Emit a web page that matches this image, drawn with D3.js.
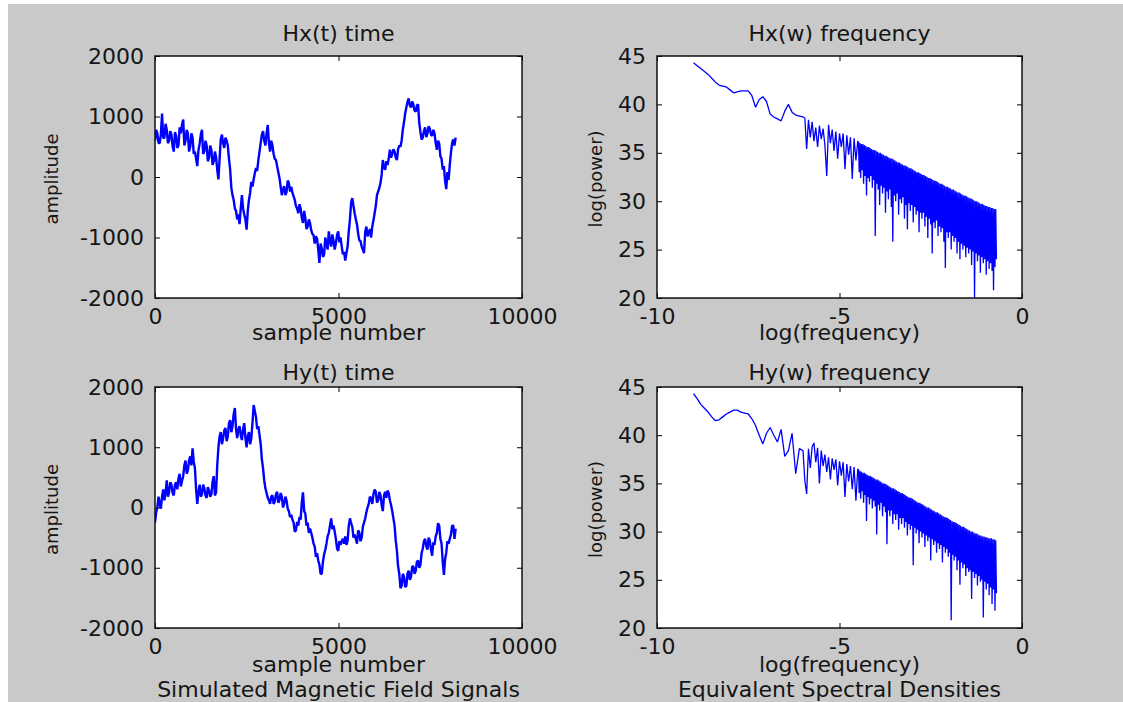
<!DOCTYPE html>
<html>
<head>
<meta charset="utf-8">
<script src="https://cdn.jsdelivr.net/npm/d3@7"></script>
<style>
    body { margin: 0; background: #ffffff; }
    svg { display: block; }
</style>
</head>
<body>
<div class="chart"></div>
<script>
// tick labels
const timeXTicks = [0, 5000, 10000];
const timeYTicks = [-2000, -1000, 0, 1000, 2000];
const freqXTicks = [-10, -5, 0];
const freqYTicks = [20, 25, 30, 35, 40, 45];

// time series: one value every 32 samples (0 .. 8192)
const sampleStep = 32;
const hxAmplitude = [
    600, 780, 720, 560, 560, 700, 1050, 640, 650, 880,
    780, 560, 600, 760, 700, 500, 420, 740, 680, 480,
    520, 820, 720, 860, 950, 520, 600, 780, 720, 420,
    500, 720, 650, 380, 420, 300, 180, 440, 550, 700,
    780, 380, 420, 600, 520, 260, 320, 520, 450, 200,
    250, 420, 330, 120, -40, 300, 620, 700, 560, 480,
    650, 600, 520, 300, 120, -180, -300, -380, -520, -560,
    -700, -620, -780, -520, -300, -520, -620, -700, -870, -560,
    -380, -260, -80, -160, -40, 60, 150, 100, 280, 420,
    560, 700, 760, 600, 520, 720, 860, 560, 420, 600,
    520, 380, 300, 280, 180, 80, -20, -160, -300, -200,
    -150, -300, -250, -60, -100, -240, -160, -260, -320, -380,
    -480, -520, -600, -450, -520, -680, -760, -560, -680, -860,
    -820, -700, -760, -880, -940, -960, -1100, -980, -1020, -1200,
    -1420, -1100, -1180, -1320, -1280, -1000, -1100, -1200, -900, -1050,
    -1150, -950, -1050, -1200, -1100, -960, -900, -1080, -1000, -1150,
    -1280, -1240, -1380, -1260, -1150, -900, -700, -420, -350, -480,
    -600, -700, -780, -940, -1050, -1060, -1150, -1200, -1260, -900,
    -820, -980, -920, -860, -1000, -820, -720, -600, -480, -300,
    -240, -180, -100, 40, 280, 160, 120, 260, 200, 300,
    450, 320, 380, 460, 420, 320, 280, 460, 520, 500,
    600, 780, 900, 1050, 1150, 1240, 1300, 1180, 1150, 1250,
    1200, 1100, 1080, 1180, 1200, 900, 750, 620, 650, 760,
    820, 660, 720, 840, 800, 700, 680, 780, 720, 560,
    450, 600, 550, 340, 300, 120, 180, -60, -200, 80,
    -50, 200, 400, 560, 620, 520, 650
];
const hyAmplitude = [
    -250, -80, 0, 180, 60, -20, 180, 300, 120, 240,
    450, 180, 250, 420, 380, 240, 200, 380, 420, 300,
    480, 560, 350, 440, 520, 700, 780, 560, 620, 780,
    850, 700, 980, 760, 650, 300, 60, 260, 380, 180,
    220, 380, 320, 200, 160, 340, 280, 180, 220, 420,
    520, 200, 250, 700, 1000, 1180, 1250, 1050, 1150, 1280,
    1320, 1100, 1180, 1400, 1450, 1250, 1350, 1550, 1650, 1300,
    1150, 1300, 1350, 1200, 1120, 1300, 1400, 1150, 1000, 1180,
    1250, 1050, 1150, 1400, 1700, 1600, 1500, 1300, 1350, 1200,
    1050, 800, 650, 450, 320, 240, 160, 120, 60, 180,
    200, 60, 100, 220, 260, 80, 120, 240, 180, 0,
    60, 180, 120, -20, -60, -160, -120, -200, -250, -400,
    -380, -240, -300, -160, -200, 80, 250, -60, -100, -300,
    -250, -420, -350, -420, -500, -600, -650, -820, -760, -880,
    -950, -1100, -1100, -900, -780, -700, -600, -480, -420, -300,
    -180, -360, -300, -400, -520, -680, -720, -560, -620, -560,
    -520, -600, -480, -620, -550, -300, -180, -260, -320, -500,
    -450, -520, -600, -380, -420, -560, -500, -320, -250, -180,
    -80, 0, 60, 180, 150, 60, 220, 300, 260, 80,
    120, 260, 200, 40, -60, 200, 260, 160, 280, 240,
    120, 40, -60, -180, -300, -550, -720, -980, -1100, -1340,
    -1300, -1100, -1150, -1320, -1300, -1100, -1050, -1200, -1150, -980,
    -980, -1100, -1050, -900, -880, -1000, -950, -760, -680, -560,
    -520, -640, -700, -500, -550, -700, -800, -580, -620, -480,
    -420, -260, -300, -520, -600, -900, -1120, -860, -750, -560,
    -600, -520, -450, -300, -300, -520, -350
];

// spectra: log(frequency) grid shared by both densities
const logFreq = [
    -9.0, -8.9, -8.8, -8.7, -8.6, -8.5, -8.4, -8.3, -8.2, -8.1,
    -8.0, -7.9, -7.8, -7.7, -7.6, -7.5, -7.4, -7.3, -7.2, -7.1,
    -7.0, -6.9, -6.8, -6.7, -6.6, -6.5, -6.4, -6.3, -6.2, -6.1,
    -6.0,
    -5.95, -5.90, -5.85, -5.80, -5.75, -5.70, -5.65, -5.60, -5.55, -5.50,
    -5.45, -5.40, -5.35, -5.30, -5.25, -5.20, -5.15, -5.10, -5.05, -5.00,
    -4.95, -4.90, -4.85, -4.80, -4.75, -4.70, -4.65, -4.60, -4.55, -4.50,
    -4.48, -4.46, -4.44, -4.42, -4.40, -4.38, -4.36, -4.34, -4.32, -4.30,
    -4.28, -4.26, -4.24, -4.22, -4.20, -4.18, -4.16, -4.14, -4.12, -4.10,
    -4.08, -4.06, -4.04, -4.02, -4.00, -3.98, -3.96, -3.94, -3.92, -3.90,
    -3.88, -3.86, -3.84, -3.82, -3.80, -3.78, -3.76, -3.74, -3.72, -3.70,
    -3.68, -3.66, -3.64, -3.62, -3.60, -3.58, -3.56, -3.54, -3.52, -3.50,
    -3.48, -3.46, -3.44, -3.42, -3.40, -3.38, -3.36, -3.34, -3.32, -3.30,
    -3.28, -3.26, -3.24, -3.22, -3.20, -3.18, -3.16, -3.14, -3.12, -3.10,
    -3.08, -3.06, -3.04, -3.02, -3.00, -2.98, -2.96, -2.94, -2.92, -2.90,
    -2.88, -2.86, -2.84, -2.82, -2.80, -2.78, -2.76, -2.74, -2.72, -2.70,
    -2.68, -2.66, -2.64, -2.62, -2.60, -2.58, -2.56, -2.54, -2.52, -2.50,
    -2.48, -2.46, -2.44, -2.42, -2.40, -2.38, -2.36, -2.34, -2.32, -2.30,
    -2.28, -2.26, -2.24, -2.22, -2.20, -2.18, -2.16, -2.14, -2.12, -2.10,
    -2.08, -2.06, -2.04, -2.02, -2.00, -1.98, -1.96, -1.94, -1.92, -1.90,
    -1.88, -1.86, -1.84, -1.82, -1.80, -1.78, -1.76, -1.74, -1.72, -1.70,
    -1.68, -1.66, -1.64, -1.62, -1.60, -1.58, -1.56, -1.54, -1.52, -1.50,
    -1.48, -1.46, -1.44, -1.42, -1.40, -1.38, -1.36, -1.34, -1.32, -1.30,
    -1.28, -1.26, -1.24, -1.22, -1.20, -1.18, -1.16, -1.14, -1.12, -1.10,
    -1.08, -1.06, -1.04, -1.02, -1.00, -0.98, -0.96, -0.94, -0.92, -0.90,
    -0.88, -0.86, -0.84, -0.82, -0.80, -0.78, -0.76, -0.74, -0.72, -0.70
];
const hxPower = [
    44.3, 44.0, 43.7, 43.4, 43.1, 42.7, 42.3, 42.0, 41.9, 41.8,
    41.5, 41.2, 41.3, 41.4, 41.4, 41.4, 40.9, 39.7, 40.5, 40.8,
    40.3, 39.0, 38.7, 38.5, 38.3, 39.3, 40.0, 39.2, 38.9, 38.8,
    38.7,
    38.6, 35.4, 38.4, 36.6, 38.2, 36.2, 37.6, 35.6, 37.8, 36.4,
    37.5, 35.8, 32.6, 37.9, 36.0, 37.4, 35.2, 37.2, 34.4, 37.0,
    35.6, 37.0, 33.3, 36.8, 34.8, 36.6, 32.3, 36.5, 34.2, 36.2,
    36.1, 33.0, 36.0, 32.4, 35.9, 33.2, 35.9, 31.8, 35.8, 32.6,
    35.7, 30.6, 35.6, 32.4, 35.6, 32.0, 35.5, 32.6, 35.4, 31.4,
    35.3, 32.2, 35.3, 26.4, 35.2, 31.8, 35.1, 31.2, 35.0, 29.6,
    35.0, 31.6, 34.9, 30.8, 34.8, 31.4, 34.7, 28.8, 34.7, 31.0,
    34.6, 30.2, 34.5, 31.2, 34.4, 29.4, 34.4, 25.8, 34.3, 30.6,
    34.2, 30.0, 34.1, 30.8, 34.0, 28.6, 34.0, 30.2, 33.9, 29.8,
    33.8, 30.4, 33.7, 28.2, 33.7, 29.6, 33.6, 27.1, 33.5, 29.8,
    33.4, 29.0, 33.4, 29.6, 33.3, 27.8, 33.2, 29.4, 33.1, 28.6,
    33.0, 29.0, 33.0, 26.8, 32.9, 28.8, 32.8, 28.2, 32.7, 28.8,
    32.7, 27.4, 32.6, 28.4, 32.5, 26.2, 32.4, 28.2, 32.4, 27.6,
    32.3, 24.6, 32.2, 27.8, 32.1, 27.2, 32.1, 28.0, 32.0, 26.4,
    31.9, 27.4, 31.8, 26.8, 31.8, 27.2, 31.7, 25.8, 31.6, 23.1,
    31.5, 26.8, 31.5, 26.2, 31.4, 26.8, 31.3, 25.0, 31.2, 26.4,
    31.2, 25.8, 31.1, 26.2, 31.0, 24.6, 30.9, 25.8, 30.9, 24.0,
    30.8, 25.6, 30.7, 25.0, 30.6, 25.4, 30.6, 24.2, 30.5, 25.2,
    30.4, 24.6, 30.3, 25.0, 30.3, 23.4, 30.2, 24.8, 30.1, 20.0,
    30.0, 24.6, 30.0, 23.8, 29.9, 24.4, 29.8, 22.6, 29.7, 24.2,
    29.7, 23.6, 29.6, 24.0, 29.5, 22.4, 29.5, 23.8, 29.4, 23.0,
    29.4, 23.6, 29.3, 22.8, 29.3, 20.8, 29.2, 23.2, 29.2, 24.0
];
const hyPower = [
    44.3, 43.8, 43.2, 42.8, 42.4, 41.9, 41.5, 41.6, 41.9, 42.2,
    42.4, 42.6, 42.6, 42.4, 42.3, 42.2, 41.7, 41.0, 40.0, 39.1,
    40.2, 40.8, 40.0, 39.3, 40.6, 37.8, 38.4, 40.2, 36.0, 38.6,
    38.4,
    35.3, 33.9, 38.6, 36.6, 38.8, 39.2, 37.2, 38.7, 35.0, 38.4,
    36.8, 38.0, 36.2, 37.7, 35.4, 37.6, 36.4, 37.5, 34.8, 37.3,
    35.8, 37.2, 33.6, 37.0, 35.2, 36.8, 34.4, 36.7, 33.2, 36.5,
    36.4, 34.0, 36.3, 33.4, 36.2, 34.2, 36.1, 33.0, 36.1, 33.8,
    36.0, 31.1, 35.9, 33.6, 35.8, 32.8, 35.8, 33.4, 35.7, 32.4,
    35.6, 33.2, 35.5, 32.6, 35.4, 29.7, 35.4, 32.8, 35.3, 32.2,
    35.2, 33.0, 35.1, 31.6, 35.0, 32.6, 35.0, 32.0, 34.9, 28.7,
    34.8, 32.2, 34.7, 31.6, 34.6, 32.2, 34.5, 30.8, 34.5, 31.8,
    34.4, 31.2, 34.3, 31.8, 34.2, 30.2, 34.1, 31.4, 34.0, 30.8,
    34.0, 31.4, 33.9, 30.4, 33.8, 31.0, 33.7, 29.6, 33.6, 30.8,
    33.5, 30.2, 33.5, 30.6, 33.4, 26.5, 33.3, 30.4, 33.2, 29.8,
    33.1, 30.2, 33.0, 28.8, 33.0, 30.0, 32.9, 29.4, 32.8, 29.8,
    32.7, 28.4, 32.6, 29.6, 32.5, 29.0, 32.5, 29.4, 32.4, 27.0,
    32.3, 29.2, 32.2, 28.6, 32.1, 29.0, 32.0, 27.8, 32.0, 28.8,
    31.9, 28.2, 31.8, 28.6, 31.7, 26.8, 31.6, 28.4, 31.5, 27.8,
    31.5, 28.2, 31.4, 27.4, 31.3, 27.8, 31.2, 20.8, 31.1, 27.6,
    31.0, 27.0, 31.0, 27.4, 30.9, 26.0, 30.8, 27.0, 30.7, 24.5,
    30.6, 26.8, 30.5, 26.2, 30.5, 26.6, 30.4, 25.4, 30.3, 26.2,
    30.2, 25.8, 30.1, 26.0, 30.0, 23.0, 30.0, 25.8, 29.9, 25.2,
    29.8, 25.6, 29.8, 24.4, 29.7, 25.4, 29.6, 24.8, 29.6, 25.0,
    29.5, 21.1, 29.5, 24.8, 29.4, 24.0, 29.4, 24.6, 29.3, 23.4,
    29.3, 24.2, 29.3, 22.5, 29.2, 24.0, 29.2, 21.8, 29.1, 23.6
];

const w = 1123;
const h = 702;
const fontFamily = "'DejaVu Sans', sans-serif";
const fontSize = 22;
const yLabelSize = 18;
const textColor = "#151515";

const sampleNumbers = hxAmplitude.map((d, i) => i * sampleStep);

const panels = [
    {
        box: [155, 56, 522, 298], xDomain: [0, 10000], yDomain: [-2000, 2000],
        xTicks: timeXTicks, yTicks: timeYTicks, xs: sampleNumbers, ys: hxAmplitude,
        title: "Hx(t) time", titleY: 41, xLabel: "sample number", xLabelY: 340,
        yLabel: "amplitude", yLabelX: 58, lineWidth: 2.4
    },
    {
        box: [657, 56, 1022, 298], xDomain: [-10, 0], yDomain: [20, 45],
        xTicks: freqXTicks, yTicks: freqYTicks, xs: logFreq, ys: hxPower,
        title: "Hx(w) frequency", titleY: 41, xLabel: "log(frequency)", xLabelY: 340,
        yLabel: "log(power)", yLabelX: 602, lineWidth: 1.3
    },
    {
        box: [155, 387, 522, 628], xDomain: [0, 10000], yDomain: [-2000, 2000],
        xTicks: timeXTicks, yTicks: timeYTicks, xs: sampleNumbers, ys: hyAmplitude,
        title: "Hy(t) time", titleY: 380, xLabel: "sample number", xLabelY: 672,
        yLabel: "amplitude", yLabelX: 58, lineWidth: 2.4,
        caption: "Simulated Magnetic Field Signals"
    },
    {
        box: [657, 387, 1022, 628], xDomain: [-10, 0], yDomain: [20, 45],
        xTicks: freqXTicks, yTicks: freqYTicks, xs: logFreq, ys: hyPower,
        title: "Hy(w) frequency", titleY: 380, xLabel: "log(frequency)", xLabelY: 672,
        yLabel: "log(power)", yLabelX: 602, lineWidth: 1.3,
        caption: "Equivalent Spectral Densities"
    }
];

const svg = d3
    .select(".chart")
    .append("svg")
    .attr("width", w)
    .attr("height", h);

// figure background (thin white strip on the left like the screenshot)
svg.append("rect")
    .attr("x", 8)
    .attr("y", 4)
    .attr("width", w - 8)
    .attr("height", h - 4)
    .attr("fill", "#c9c9c9");

const styleAxis = g => {
    g.select(".domain").remove();
    g.selectAll(".tick line").attr("stroke", "#000");
    g.selectAll(".tick text")
        .attr("fill", textColor)
        .attr("font-family", fontFamily)
        .attr("font-size", fontSize);
};

const addText = (txt, x, y) =>
    svg.append("text")
        .attr("x", x)
        .attr("y", y)
        .attr("text-anchor", "middle")
        .attr("font-family", fontFamily)
        .attr("font-size", fontSize)
        .attr("fill", textColor)
        .text(txt);

panels.forEach((p, n) => {
    const [x0, y0, x1, y1] = p.box;
    const cx = (x0 + x1) / 2;
    const cy = (y0 + y1) / 2;

    const xScale = d3.scaleLinear().domain(p.xDomain).range([x0, x1]);
    const yScale = d3.scaleLinear().domain(p.yDomain).range([y1, y0]);

    svg.append("rect")
        .attr("x", x0)
        .attr("y", y0)
        .attr("width", x1 - x0)
        .attr("height", y1 - y0)
        .attr("fill", "#ffffff");

    svg.append("clipPath")
        .attr("id", "clip" + n)
        .append("rect")
        .attr("x", x0)
        .attr("y", y0)
        .attr("width", x1 - x0)
        .attr("height", y1 - y0);

    const line = d3.line()
        .x(d => xScale(d[0]))
        .y(d => yScale(d[1]));

    svg.append("path")
        .datum(d3.zip(p.xs, p.ys))
        .attr("clip-path", "url(#clip" + n + ")")
        .attr("d", line)
        .attr("fill", "none")
        .attr("stroke", "#0000ff")
        .attr("stroke-width", p.lineWidth)
        .attr("stroke-linejoin", "bevel");

    const fmt = d => String(d);

    svg.append("g")
        .attr("transform", "translate(0," + y1 + ")")
        .call(d3.axisBottom(xScale).tickValues(p.xTicks).tickSize(-5).tickPadding(10).tickFormat(fmt))
        .call(styleAxis);

    svg.append("g")
        .attr("transform", "translate(" + x0 + ",0)")
        .call(d3.axisLeft(yScale).tickValues(p.yTicks).tickSize(-5).tickPadding(11).tickFormat(fmt))
        .call(styleAxis);

    svg.append("g")
        .attr("transform", "translate(0," + y0 + ")")
        .call(d3.axisTop(xScale).tickValues(p.xTicks).tickSize(-5).tickFormat(""))
        .call(styleAxis);

    svg.append("g")
        .attr("transform", "translate(" + x1 + ",0)")
        .call(d3.axisRight(yScale).tickValues(p.yTicks).tickSize(-5).tickFormat(""))
        .call(styleAxis);

    // axes box
    svg.append("rect")
        .attr("x", x0)
        .attr("y", y0)
        .attr("width", x1 - x0)
        .attr("height", y1 - y0)
        .attr("fill", "none")
        .attr("stroke", "#111")
        .attr("stroke-width", 1.5);

    addText(p.title, cx, p.titleY);
    addText(p.xLabel, cx, p.xLabelY);
    if (p.caption) addText(p.caption, cx, 697);

    svg.append("text")
        .attr("transform", "translate(" + p.yLabelX + "," + (cy + 2) + ") rotate(-90)")
        .attr("text-anchor", "middle")
        .attr("font-family", fontFamily)
        .attr("font-size", yLabelSize)
        .attr("fill", textColor)
        .text(p.yLabel);
});
</script>
</body>
</html>
